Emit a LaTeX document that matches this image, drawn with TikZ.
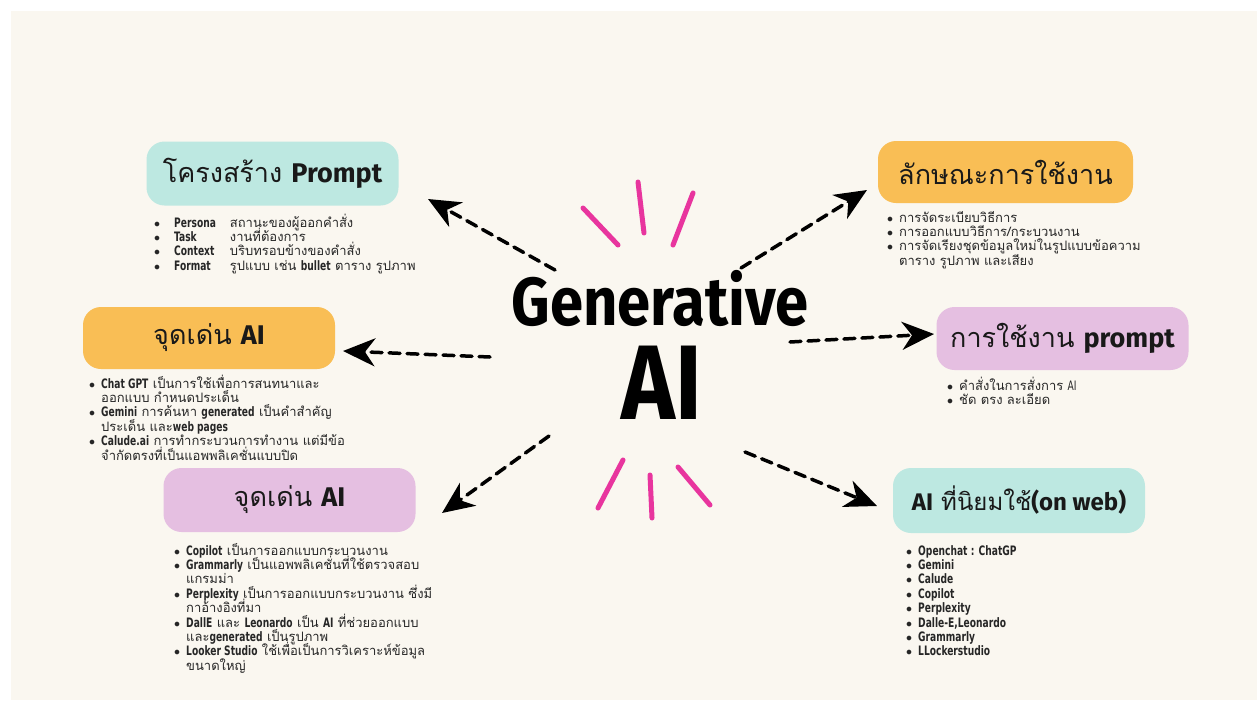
\documentclass[tikz,border=0pt]{standalone}
\usepackage{fontspec}
\usepackage{array}
\usetikzlibrary{arrows.meta,positioning}
\setmainfont{Loma}[Script=Thai]
\newfontfamily\condfont{DejaVu Sans Condensed}
\newfontfamily\titlefont{Fira Sans}
\newcommand\lat[1]{\smash{\scalebox{0.78}[1]{\condfont\bfseries #1}}}
\newcommand\hd[1]{{\titlefont\bfseries #1}}
\newsavebox\cellbox
\newcolumntype{F}{>{\begin{lrbox}{\cellbox}}l<{\end{lrbox}\smash{\usebox\cellbox}}}
\definecolor{cream}{HTML}{FAF7F0}
\definecolor{teal}{HTML}{BDE8E1}
\definecolor{amber}{HTML}{F9BE55}
\definecolor{lilac}{HTML}{E5BFE1}
\definecolor{magenta}{HTML}{E8359E}
\tikzset{
  box/.style={rounded corners=18, inner sep=0pt, minimum width=252, minimum height=64,
    font=\fontsize{27}{30}\selectfont, text=black!90},
  list/.style={anchor=base west, inner sep=0pt, font=\fontsize{13}{14.4}\selectfont, text=black!85},
  link/.style={line width=3.5pt, dash pattern=on 11pt off 7pt, line cap=round,
    -{Stealth[length=32pt,width=28pt,inset=10pt]}},
  spark/.style={magenta, line width=5pt, line cap=round}
}
\begin{document}
\begin{tikzpicture}[x=1pt,y=-1pt]
  \useasboundingbox (0,0) rectangle (1257,702);
  \fill[cream] (11,11) rectangle (1257,700);

  % centre title
  \node[font=\titlefont\bfseries\fontsize{68}{70}\selectfont, xscale=0.88] (gen) at (660,298) {Generative};
  \node[font=\titlefont\bfseries\fontsize{106}{110}\selectfont, xscale=0.86] (ai) at (662,383) {AI};

  % sparks
  \draw[spark] (583,208) -- (618,245);
  \draw[spark] (638,182) -- (644,233);
  \draw[spark] (693,193) -- (673,245);
  \draw[spark] (623,460) -- (598,508);
  \draw[spark] (650,475) -- (652,518);
  \draw[spark] (678,467) -- (710,505);

  % boxes
  \node[box, fill=teal] (struct) at (272.5,173.5) {โครงสร้าง \hd{Prompt}};
  \node[box, fill=amber, minimum height=62] (featA) at (209,338) {จุดเด่น \hd{AI}};
  \node[box, fill=lilac] (featB) at (289.5,500) {จุดเด่น \hd{AI}};
  \node[box, fill=amber, minimum width=255, minimum height=62] (usage) at (1005.5,172) {ลักษณะการใช้งาน};
  \node[box, fill=lilac, minimum height=63] (prompt) at (1062.5,338.5) {การใช้งาน \hd{prompt}};
  \node[box, fill=teal, minimum height=65, font=\fontsize{24}{28}\selectfont] (popular) at (1019,500.5) {\hd{AI} ที่นิยมใช้\hd{(on web)}};

  % lists
  \node[list] (structlist) at (154,227) {\begin{tabular}[t]{@{}l@{\hspace{14pt}}l@{\hspace{14pt}}F@{}}
    $\bullet$ & \lat{Persona} & สถานะของผู้ออกคำสั่ง\\
    $\bullet$ & \lat{Task} & งานที่ต้องการ\\
    $\bullet$ & \lat{Context} & บริบทรอบข้างของคำสั่ง\\
    $\bullet$ & \lat{Format} & รูปแบบ เช่น \lat{bullet} ตาราง รูปภาพ
  \end{tabular}};
  \node[list] (featAlist) at (89,388) {\begin{tabular}[t]{@{}l@{\hspace{6pt}}F@{}}
    $\bullet$ & \lat{Chat GPT} เป็นการใช้เพื่อการสนทนาและ\\
     & ออกแบบ กำหนดประเด็น\\
    $\bullet$ & \lat{Gemini} การค้นหา \lat{generated} เป็นคำสำคัญ\\
     & ประเด็น และ\lat{web pages}\\
    $\bullet$ & \lat{Calude.ai} การทำกระบวนการทำงาน แต่มีข้อ\\
     & จำกัดตรงที่เป็นแอพพลิเคชั่นแบบปิด
  \end{tabular}};
  \node[list] (featBlist) at (174,555) {\begin{tabular}[t]{@{}l@{\hspace{6pt}}F@{}}
    $\bullet$ & \lat{Copilot} เป็นการออกแบบกระบวนงาน\\
    $\bullet$ & \lat{Grammarly} เป็นแอพพลิเคชั่นที่ใช้ตรวจสอบ\\
     & แกรมม่า\\
    $\bullet$ & \lat{Perplexity} เป็นการออกแบบกระบวนงาน ซึ่งมี\\
     & กาอ้างอิงที่มา\\
    $\bullet$ & \lat{DallE} และ \lat{Leonardo} เป็น \lat{AI} ที่ช่วยออกแบบ\\
     & และ\lat{generated} เป็นรูปภาพ\\
    $\bullet$ & \lat{Looker Studio} ใช้เพื่อเป็นการวิเคราะห์ข้อมูล\\
     & ขนาดใหญ่
  \end{tabular}};
  \node[list] (usagelist) at (887,222) {\begin{tabular}[t]{@{}l@{\hspace{6pt}}F@{}}
    $\bullet$ & การจัดระเบียบวิธีการ\\
    $\bullet$ & การออกแบบวิธีการ/กระบวนงาน\\
    $\bullet$ & การจัดเรียงชุดข้อมูลใหม่ในรูปแบบข้อความ\\
     & ตาราง รูปภาพ และเสียง
  \end{tabular}};
  \node[list] (promptlist) at (947,390) {\begin{tabular}[t]{@{}l@{\hspace{6pt}}F@{}}
    $\bullet$ & คำสั่งในการสั่งการ \smash{\scalebox{0.78}[1]{\condfont AI}}\\
    $\bullet$ & ชัด ตรง ละเอียด
  \end{tabular}};
  \node[list] (popularlist) at (906,555) {\begin{tabular}[t]{@{}l@{\hspace{6pt}}F@{}}
    $\bullet$ & \lat{Openchat : ChatGP}\\
    $\bullet$ & \lat{Gemini}\\
    $\bullet$ & \lat{Calude}\\
    $\bullet$ & \lat{Copilot}\\
    $\bullet$ & \lat{Perplexity}\\
    $\bullet$ & \lat{Dalle-E,Leonardo}\\
    $\bullet$ & \lat{Grammarly}\\
    $\bullet$ & \lat{LLockerstudio}
  \end{tabular}};

  % arrow ends
  \coordinate (t1) at (555,270); \coordinate (h1) at (428,199);
  \coordinate (t2) at (490,357); \coordinate (h2) at (343,351);
  \coordinate (t3) at (549,436); \coordinate (h3) at (442,513);
  \coordinate (t4) at (741,268); \coordinate (h4) at (867,190);
  \coordinate (t5) at (790,342); \coordinate (h5) at (934,334);
  \coordinate (t6) at (745,452); \coordinate (h6) at (877,506);
  \foreach \i in {1,...,6}
    \draw[link] (t\i) -- (h\i);
\end{tikzpicture}
\end{document}
